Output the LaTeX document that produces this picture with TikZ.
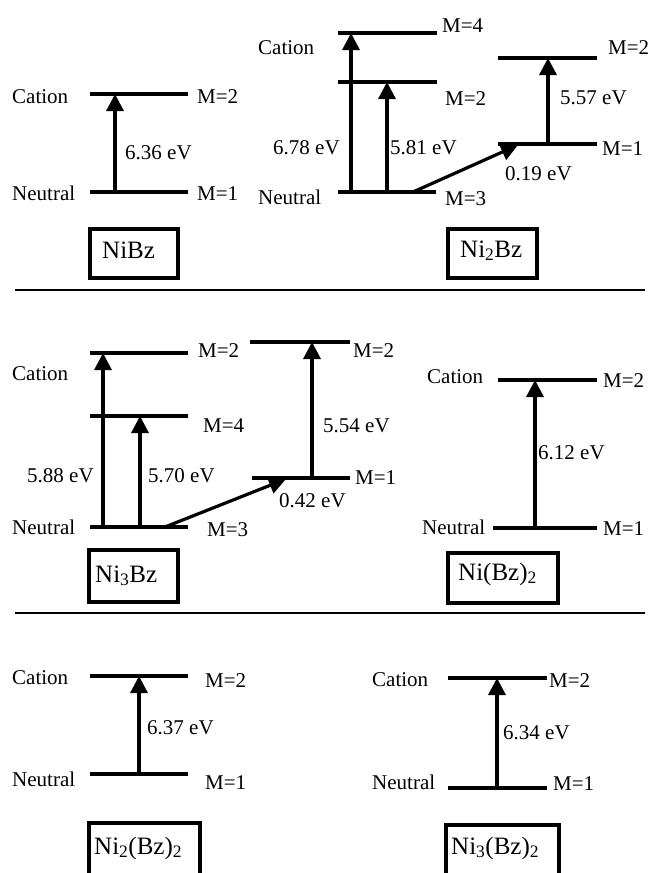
\documentclass[tikz,border=0pt]{standalone}
\usepackage{fontspec}
\setmainfont{Liberation Serif}
\usetikzlibrary{arrows.meta}
\begin{document}
\begin{tikzpicture}[x=1pt,y=-1pt,
 lev/.style={line width=3.2pt},
 up/.style={line width=3.2pt,-{Triangle[width=17pt,length=17pt]}},
 lbl/.style={inner sep=0pt,anchor=west,font=\fontsize{21}{24}\selectfont,text height=14pt,text depth=0pt},
 boxst/.style={draw,line width=3.2pt,inner sep=0pt},
 boxtxt/.style={inner sep=0pt,anchor=west,font=\fontsize{25}{28}\selectfont,text height=16.5pt,text depth=0pt},
 sep/.style={line width=1.6pt}]
\clip (0,0) rectangle (653,873);
\useasboundingbox (0,0) rectangle (653,873);

% separators
\coordinate (s1a) at (15,290); \coordinate (s1b) at (645,290);
\coordinate (s2a) at (15,613); \coordinate (s2b) at (645,613);
\draw[sep] (s1a) -- (s1b);
\draw[sep] (s2a) -- (s2b);

% ---------- Panel 1: NiBz ----------
\coordinate (p1cL) at (90,94);  \coordinate (p1cR) at (188,94);
\coordinate (p1nL) at (90,192); \coordinate (p1nR) at (188,192);
\draw[lev] (p1cL) -- (p1cR);
\draw[lev] (p1nL) -- (p1nR);
\coordinate (p1a0) at (115,192); \coordinate (p1a1) at (115,94);
\draw[up] (p1a0) -- (p1a1);
\node[lbl] (p1cat) at (12,96) {Cation};
\node[lbl] (p1neu) at (12,193) {Neutral};
\node[lbl] (p1m2) at (197,96) {M=2};
\node[lbl] (p1m1) at (197,193) {M=1};
\node[lbl] (p1e) at (125,152) {6.36 eV};
\node[boxst,minimum width=88pt,minimum height=49pt] (B1) at (134,253.5) {};
\node[boxtxt] (T1) at (102,250) {NiBz};

% ---------- Panel 2: Ni2Bz ----------
\coordinate (p2aL) at (338,33);  \coordinate (p2aR) at (437,33);
\coordinate (p2bL) at (338,82);  \coordinate (p2bR) at (437,82);
\coordinate (p2nL) at (338,192); \coordinate (p2nR) at (436,192);
\coordinate (p2rL) at (498,58);  \coordinate (p2rR) at (597,58);
\coordinate (p2sL) at (498,144); \coordinate (p2sR) at (597,144);
\draw[lev] (p2aL) -- (p2aR);
\draw[lev] (p2bL) -- (p2bR);
\draw[lev] (p2nL) -- (p2nR);
\draw[lev] (p2rL) -- (p2rR);
\draw[lev] (p2sL) -- (p2sR);
\coordinate (p2x0) at (351,192); \coordinate (p2x1) at (351,33);
\coordinate (p2y0) at (387,192); \coordinate (p2y1) at (387,82);
\coordinate (p2z0) at (548,144); \coordinate (p2z1) at (548,58);
\coordinate (p2d0) at (413,192); \coordinate (p2d1) at (518,145);
\draw[up] (p2x0) -- (p2x1);
\draw[up] (p2y0) -- (p2y1);
\draw[up] (p2z0) -- (p2z1);
\draw[up] (p2d0) -- (p2d1);
\node[lbl] (p2cat) at (258,47) {Cation};
\node[lbl] (p2neu) at (258,197) {Neutral};
\node[lbl] (p2m4) at (442,25) {M=4};
\node[lbl] (p2m2) at (445,98) {M=2};
\node[lbl] (p2m3) at (445,198) {M=3};
\node[lbl] (p2m2r) at (608,47) {M=2};
\node[lbl] (p2m1r) at (602,148) {M=1};
\node[lbl] (p2e1) at (273,147) {6.78 eV};
\node[lbl] (p2e2) at (390,147) {5.81 eV};
\node[lbl] (p2e3) at (560,97) {5.57 eV};
\node[lbl] (p2e4) at (505,173) {0.19 eV};
\node[boxst,minimum width=89pt,minimum height=49pt] (B2) at (492.5,253.5) {};
\node[boxtxt] (T2) at (460,249) {Ni\textsubscript{2}Bz};

% ---------- Panel 3: Ni3Bz ----------
\coordinate (p3aL) at (90,353);  \coordinate (p3aR) at (188,353);
\coordinate (p3bL) at (90,416);  \coordinate (p3bR) at (188,416);
\coordinate (p3nL) at (90,527);  \coordinate (p3nR) at (188,527);
\coordinate (p3rL) at (250,342); \coordinate (p3rR) at (350,342);
\coordinate (p3sL) at (252,478); \coordinate (p3sR) at (350,478);
\draw[lev] (p3aL) -- (p3aR);
\draw[lev] (p3bL) -- (p3bR);
\draw[lev] (p3nL) -- (p3nR);
\draw[lev] (p3rL) -- (p3rR);
\draw[lev] (p3sL) -- (p3sR);
\coordinate (p3x0) at (103,527); \coordinate (p3x1) at (103,353);
\coordinate (p3y0) at (140,527); \coordinate (p3y1) at (140,416);
\coordinate (p3z0) at (312,478); \coordinate (p3z1) at (312,342);
\coordinate (p3d0) at (165,527); \coordinate (p3d1) at (286,479);
\draw[up] (p3x0) -- (p3x1);
\draw[up] (p3y0) -- (p3y1);
\draw[up] (p3z0) -- (p3z1);
\draw[up] (p3d0) -- (p3d1);
\node[lbl] (p3cat) at (12,373) {Cation};
\node[lbl] (p3neu) at (12,527) {Neutral};
\node[lbl] (p3m2) at (198,350) {M=2};
\node[lbl] (p3m4) at (203,425) {M=4};
\node[lbl] (p3m3) at (207,529) {M=3};
\node[lbl] (p3m2r) at (353,350) {M=2};
\node[lbl] (p3m1r) at (355,477) {M=1};
\node[lbl] (p3e1) at (27,475) {5.88 eV};
\node[lbl] (p3e2) at (148,475) {5.70 eV};
\node[lbl] (p3e3) at (323,425) {5.54 eV};
\node[lbl] (p3e4) at (279,500) {0.42 eV};
\node[boxst,minimum width=89pt,minimum height=52pt] (B3) at (133.5,576) {};
\node[boxtxt] (T3) at (95,574) {Ni\textsubscript{3}Bz};

% ---------- Panel 4: Ni(Bz)2 ----------
\coordinate (p4cL) at (498,380); \coordinate (p4cR) at (597,380);
\coordinate (p4nL) at (493,528); \coordinate (p4nR) at (597,528);
\draw[lev] (p4cL) -- (p4cR);
\draw[lev] (p4nL) -- (p4nR);
\coordinate (p4a0) at (535,528); \coordinate (p4a1) at (535,380);
\draw[up] (p4a0) -- (p4a1);
\node[lbl] (p4cat) at (427,376) {Cation};
\node[lbl] (p4neu) at (422,527) {Neutral};
\node[lbl] (p4m2) at (603,380) {M=2};
\node[lbl] (p4m1) at (603,528) {M=1};
\node[lbl] (p4e) at (538,452) {6.12 eV};
\node[boxst,minimum width=110pt,minimum height=50pt] (B4) at (503,578) {};
\node[boxtxt] (T4) at (458,572) {Ni(Bz)\textsubscript{2}};

% ---------- Panel 5: Ni2(Bz)2 ----------
\coordinate (p5cL) at (90,676); \coordinate (p5cR) at (188,676);
\coordinate (p5nL) at (90,774); \coordinate (p5nR) at (188,774);
\draw[lev] (p5cL) -- (p5cR);
\draw[lev] (p5nL) -- (p5nR);
\coordinate (p5a0) at (139,774); \coordinate (p5a1) at (139,676);
\draw[up] (p5a0) -- (p5a1);
\node[lbl] (p5cat) at (12,677) {Cation};
\node[lbl] (p5neu) at (12,779) {Neutral};
\node[lbl] (p5m2) at (205,680) {M=2};
\node[lbl] (p5m1) at (205,782) {M=1};
\node[lbl] (p5e) at (147,727) {6.37 eV};
\node[boxst,minimum width=111pt,minimum height=60pt] (B5) at (144.5,853) {};
\node[boxtxt] (T5) at (94,846) {Ni\textsubscript{2}(Bz)\textsubscript{2}};

% ---------- Panel 6: Ni3(Bz)2 ----------
\coordinate (p6cL) at (448,678); \coordinate (p6cR) at (547,678);
\coordinate (p6nL) at (448,788); \coordinate (p6nR) at (547,788);
\draw[lev] (p6cL) -- (p6cR);
\draw[lev] (p6nL) -- (p6nR);
\coordinate (p6a0) at (497,788); \coordinate (p6a1) at (497,678);
\draw[up] (p6a0) -- (p6a1);
\node[lbl] (p6cat) at (372,679) {Cation};
\node[lbl] (p6neu) at (372,782) {Neutral};
\node[lbl] (p6m2) at (549,680) {M=2};
\node[lbl] (p6m1) at (553,783) {M=1};
\node[lbl] (p6e) at (503,732) {6.34 eV};
\node[boxst,minimum width=113pt,minimum height=58pt] (B6) at (502.5,854) {};
\node[boxtxt] (T6) at (451,846) {Ni\textsubscript{3}(Bz)\textsubscript{2}};
\end{tikzpicture}
\end{document}
